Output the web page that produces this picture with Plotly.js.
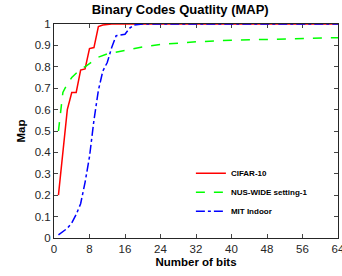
<!DOCTYPE html>
<html><head><meta charset="utf-8">
<script src="https://cdn.plot.ly/plotly-3.0.1.min.js"></script>
<style>html,body{margin:0;padding:0;background:#fff}#chart{width:342px;height:276px}</style>
</head><body><div id="chart"></div>
<script>
const cifarBits = [1,2,3,4,5,6,7,8,9,10,11,12,13,16,24,32,40,48,56,64];
const cifarMap  = [0.2,0.4,0.6,0.68,0.68,0.785,0.79,0.885,0.89,0.988,0.995,0.998,1,1,1,1,1,1,1,1];

const nusBits = [1,1.5,2,3,4,5,6,7,8,9,10,12,14,16,20,24,28,32,40,48,56,64];
const nusMap  = [0.5,0.6,0.68,0.72,0.75,0.77,0.79,0.8,0.815,0.83,0.845,0.86,0.868,0.878,0.893,0.904,0.912,0.917,0.924,0.929,0.933,0.936];

const mitBits = [1,2,3,4,5,6,7,8,9,10,11,12,13,14,15,16,17,18,19,20,24,32,40,48,56,64];
const mitMap  = [0.015,0.03,0.045,0.07,0.11,0.16,0.26,0.38,0.55,0.69,0.78,0.82,0.89,0.945,0.95,0.952,0.98,0.995,0.998,1,1,1,1,1,1,1];

const seriesNames = ['CIFAR-10','NUS-WIDE setting-1','MIT Indoor'];
const xTicks = [0,8,16,24,32,40,48,56,64];

const FONT = 'Liberation Sans, Arial, Helvetica, sans-serif';
const traces = [
  {x: cifarBits, y: cifarMap, name: seriesNames[0], legendgroup:'a', mode:'lines', cliponaxis:false,
   line:{color:'#ff0000', width:1.5, dash:'solid'}},
  {x: nusBits, y: nusMap, name: seriesNames[1], legendgroup:'b', mode:'lines', cliponaxis:false,
   line:{color:'#00ff00', width:1.5, dash:'dash'}},
  {x: mitBits, y: mitMap, name: seriesNames[2], legendgroup:'c', mode:'lines', cliponaxis:false,
   line:{color:'#0000ff', width:1.5, dash:'dashdot'}}
];
const layout = {
  width:342, height:276,
  margin:{l:54, r:4, t:24, b:38},
  paper_bgcolor:'#fff', plot_bgcolor:'#fff',
  font:{family:FONT, color:'#262626'},
  title:{text:'<b>Binary Codes Quatlity (MAP)</b>', font:{size:13, color:'#000', family:FONT},
         x:0.527, xanchor:'center', y:0.965, yanchor:'middle', xref:'container', yref:'container'},
  showlegend:true,
  legend:{x:0.482, y:0.37, xanchor:'left', yanchor:'top', bgcolor:'rgba(0,0,0,0)',
          font:{size:8, color:'#000', family:FONT, weight:'bold'}, tracegroupgap:7, traceorder:'normal'},
  xaxis:{range:[0,64], tickvals:xTicks, ticktext:xTicks.map(String), ticks:'inside', ticklen:4,
         ticklabeloverflow:'allow',
         showline:true, linecolor:'#262626', linewidth:1, mirror:'ticks', showgrid:false, zeroline:false,
         tickfont:{size:11.5, color:'#262626'}, layer:'below traces',
         title:{text:'<b>Number of bits</b>', font:{size:11.5, color:'#000'}, standoff:4}},
  yaxis:{range:[0,1], dtick:0.1, tick0:0, ticks:'inside', ticklen:4,
         showline:true, linecolor:'#262626', linewidth:1, mirror:'ticks', showgrid:false, zeroline:false,
         tickfont:{size:11.5, color:'#262626'}, layer:'below traces',
         title:{text:'<b>Map</b>', font:{size:11.5, color:'#000'}, standoff:6}}
};
Plotly.newPlot('chart', traces, layout, {staticPlot:true, displayModeBar:false});
</script></body></html>
